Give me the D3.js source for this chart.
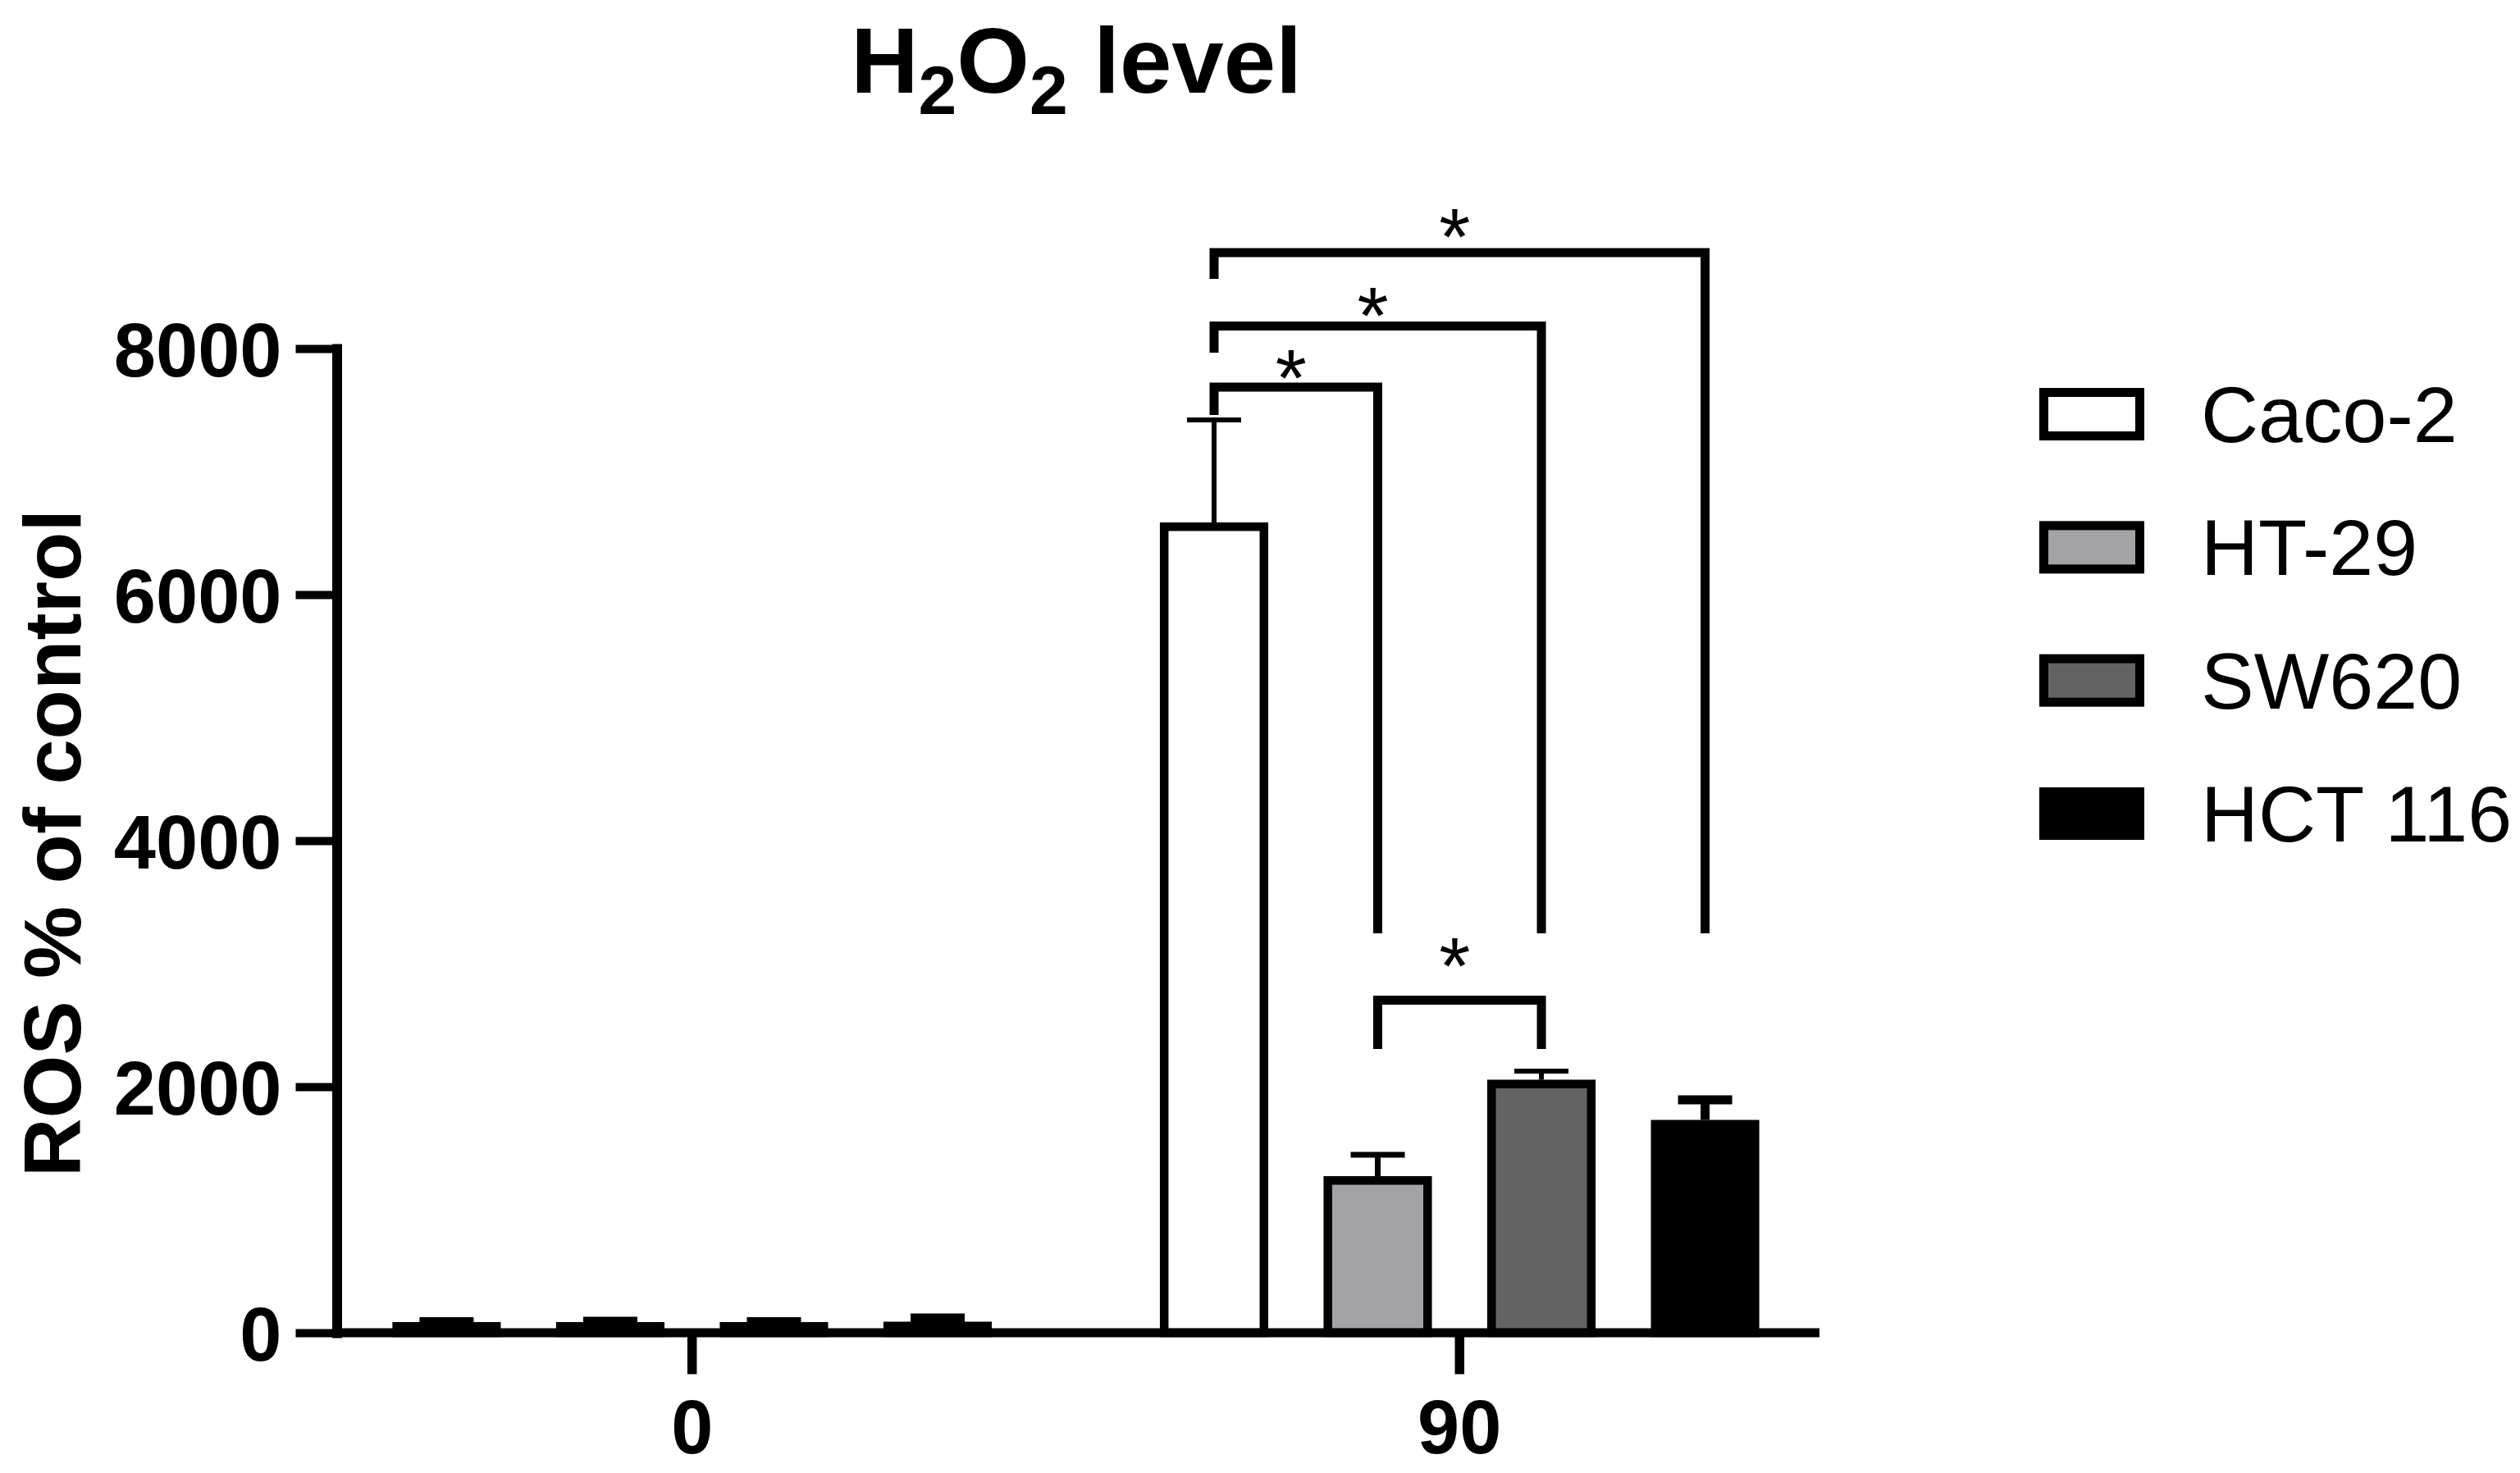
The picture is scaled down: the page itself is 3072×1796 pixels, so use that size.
<!DOCTYPE html>
<html><head><meta charset="utf-8">
<script src="https://cdn.jsdelivr.net/npm/d3@7/dist/d3.min.js"></script>
<style>
html,body{margin:0;padding:0;background:#fff;}
svg{display:block;}
text{font-family:"Liberation Sans",Arial,Helvetica,sans-serif;fill:#000;}
</style>
</head><body>
<svg id="chart" width="3072" height="1796"></svg>
<script>
// ---------- data ----------
const groups = ["0", "90"];
const series = ["Caco-2", "HT-29", "SW620", "HCT 116"];
const means0 = [87, 87, 87, 90];
const errs0 = [20, 20, 20, 30];
const means90 = [6587, 1273, 2057, 1730];
const errs90 = [833, 174, 70, 163];
const yTicks = [0, 2000, 4000, 6000, 8000];
const fills = ["#ffffff", "#a3a2a7", "#636363", "#000000"];
const errWidths = [6, 7, 6, 11];
// significance brackets (group 90)
const sigPairs = [["Caco-2", "HT-29"], ["Caco-2", "SW620"], ["Caco-2", "HCT 116"], ["HT-29", "SW620"]];
const sigLevels = [7687, 8183, 8780, 2703];
const sigLegA = [7460, 7967, 8567, 2307];
const sigLegB = [3247, 3247, 3247, 2307];
const sigStar = [7883, 8387, 9027, 3100];
const sigLabels = ["*", "*", "*", "*"];

const meansBy = {"0": means0, "90": means90};
const errsBy = {"0": errs0, "90": errs90};

// ---------- scales ----------
const svg = d3.select("#chart");
const y = d3.scaleLinear().domain([0, 8000]).range([1625, 425]);
const x0 = d3.scaleBand().domain(groups).range([411, 2212]).paddingInner(0.1).paddingOuter(0.0125);
const x1 = d3.scaleBand().domain(series).range([0, x0.bandwidth()]).paddingInner(0.338).paddingOuter(0.279);
const bw = x1.bandwidth();
const cx = (g, s) => x0(g) + x1(s) + bw / 2;

const rows = [];
groups.forEach(g => series.forEach((s, i) => rows.push({g, s, i, v: meansBy[g][i], e: errsBy[g][i]})));

// ---------- bars ----------
const bs = 10.5; // border
svg.append("g").selectAll("rect").data(rows).join("rect")
  .attr("x", d => x0(d.g) + x1(d.s) + bs / 2)
  .attr("y", d => y(d.v) + bs / 2)
  .attr("width", bw - bs)
  .attr("height", d => Math.max(0, y(0) - y(d.v) - bs / 2))
  .attr("fill", d => fills[d.i])
  .attr("stroke", "#000")
  .attr("stroke-width", bs);

// ---------- error bars ----------
svg.append("g").selectAll("path").data(rows).join("path")
  .attr("d", d => {
    const c = cx(d.g, d.s), top = y(d.v + d.e);
    return `M${c},${y(d.v)}V${top}M${c - 33},${top}H${c + 33}`;
  })
  .attr("fill", "none").attr("stroke", "#000")
  .attr("stroke-width", d => errWidths[d.i]);

// ---------- axes ----------
const yAxis = svg.append("g").attr("transform", "translate(410.5,0)")
  .call(d3.axisLeft(y).tickValues(yTicks).tickFormat(d3.format("d")).tickSize(50).tickPadding(17).tickSizeOuter(0));
yAxis.select(".domain").attr("stroke-width", 12).attr("stroke-linecap", "square");
yAxis.selectAll(".tick line").attr("stroke-width", 10);
yAxis.selectAll(".tick text").attr("font-size", 92).attr("font-weight", "bold")
  .attr("font-family", "'Liberation Sans',Arial,sans-serif").attr("dy", "0.36em");

const xAxis = svg.append("g").attr("transform", "translate(0,1624.5)")
  .call(d3.axisBottom(x0).tickSize(51).tickPadding(31).tickSizeOuter(0));
xAxis.select(".domain").attr("stroke-width", 11).attr("stroke-linecap", "square");
xAxis.selectAll(".tick line").attr("stroke-width", 11.5);
xAxis.selectAll(".tick text").attr("font-size", 92).attr("font-weight", "bold")
  .attr("font-family", "'Liberation Sans',Arial,sans-serif");

// ---------- significance brackets ----------
const sig = sigPairs.map((p, k) => ({p, k}));
svg.append("g").selectAll("path").data(sig).join("path")
  .attr("d", d => {
    const xa = cx("90", d.p[0]), xb = cx("90", d.p[1]);
    return `M${xa},${y(sigLegA[d.k])}V${y(sigLevels[d.k])}H${xb}V${y(sigLegB[d.k])}`;
  })
  .attr("fill", "none").attr("stroke", "#000").attr("stroke-width", 11)
  .attr("stroke-linejoin", "miter").attr("stroke-linecap", "butt");
svg.append("g").selectAll("text").data(sig).join("text")
  .attr("x", d => (cx("90", d.p[0]) + cx("90", d.p[1])) / 2 - 6)
  .attr("y", d => y(sigStar[d.k]) + 52)
  .attr("text-anchor", "middle").attr("font-size", 98)
  .text(d => sigLabels[d.k]);

// ---------- y label ----------
svg.append("text")
  .attr("transform", "translate(98,1028) rotate(-90)")
  .attr("text-anchor", "middle").attr("font-size", 99).attr("font-weight", "bold")
  .text("ROS % of control");

// ---------- title ----------
const title = svg.append("text").attr("x", 1312).attr("y", 113)
  .attr("text-anchor", "middle").attr("font-size", 114).attr("font-weight", "bold");
title.append("tspan").text("H");
title.append("tspan").attr("font-size", 84).attr("dy", 26).text("2");
title.append("tspan").attr("dy", -26).text("O");
title.append("tspan").attr("font-size", 84).attr("dy", 26).text("2");
title.append("tspan").attr("dy", -26).text(" level");

// ---------- legend ----------
const ly = d3.scalePoint().domain(series).range([505, 992]);
const lg = svg.append("g").selectAll("g").data(series).join("g")
  .attr("transform", s => `translate(0,${ly(s)})`);
lg.append("rect")
  .attr("x", 2486 + 5.5).attr("y", -32 + 5.5).attr("width", 128 - 11).attr("height", 64 - 11)
  .attr("fill", (s, i) => fills[i]).attr("stroke", "#000").attr("stroke-width", 11);
lg.append("text").attr("x", 2683).attr("y", 0).attr("dy", "0.35em")
  .attr("font-size", 97).text(s => s);
</script>
</body></html>
